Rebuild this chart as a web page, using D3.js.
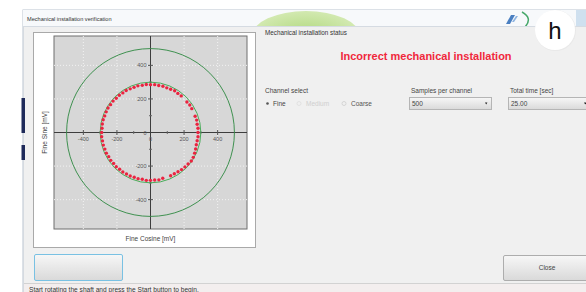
<!DOCTYPE html>
<html>
<head>
<meta charset="UTF-8">
<title>Mechanical installation verification</title>
<style>
  body { margin: 0; background: #fff; font-family: 'Liberation Sans', Arial, sans-serif; }
  svg text { font-family: 'Liberation Sans', Arial, sans-serif; }
</style>
</head>
<body>
<div id="container"></div>
<script src="https://d3js.org/d3.v7.min.js"></script>
<script>
// samples (mV)
var fineCos = [283,283,278,275,266,246,234,217,183,163,144,120,97,74,49,25,0,-25,-49,-75,-98,-121,-145,-165,-186,-204,-223,-238,-253,-264,-273,-282,-287,-289,-291,-291,-286,-281,-272,-263,-249,-237,-220,-204,-184,-165,-143,-121,-97,-74,-49,-25,0,25,50,73,120,142,164,185,205,224,243,255,263,269,273,278,283];
var fineSin = [0,25,49,74,97,142,164,182,218,233,249,258,266,276,280,285,285,286,281,278,269,260,250,236,222,204,187,166,146,123,99,76,51,25,0,-25,-50,-75,-99,-123,-144,-166,-184,-204,-219,-235,-247,-259,-267,-275,-279,-285,-285,-283,-282,-273,-258,-246,-234,-221,-205,-188,-170,-148,-123,-98,-73,-49,-25];
var limitRadii = [300, 500];
var majorTicks = [-400, -200, 200, 400];
var minorTicks = [-300, -100, 100, 300];
var gridValues = [-400, -200, 200, 400];

var svg = d3.select("#container").append("svg")
  .attr("width", 586).attr("height", 292);

var defs = svg.append("defs");
var g1 = defs.append("linearGradient").attr("id", "btn").attr("x1", 0).attr("y1", 0).attr("x2", 0).attr("y2", 1);
g1.append("stop").attr("offset", "0%").attr("stop-color", "#f7f7f7");
g1.append("stop").attr("offset", "100%").attr("stop-color", "#d9d9d9");
var g2 = defs.append("radialGradient").attr("id", "swoosh");
g2.append("stop").attr("offset", "0%").attr("stop-color", "#9ccf5a");
g2.append("stop").attr("offset", "100%").attr("stop-color", "#c9e59e");
defs.append("clipPath").attr("id", "titleclip").append("rect")
  .attr("x", 23).attr("y", 10).attr("width", 563).attr("height", 16);
defs.append("clipPath").attr("id", "plotclip").append("rect")
  .attr("x", 54).attr("y", 36).attr("width", 193).attr("height", 193);

// window body
svg.append("rect").attr("x", 23).attr("y", 10).attr("width", 570).attr("height", 290)
  .attr("fill", "#f0f0f0").attr("stroke", "#b9c4cf");
svg.append("rect").attr("x", 23).attr("y", 10).attr("width", 570).attr("height", 16)
  .attr("fill", "#f7f9fb");
var tb = svg.append("g").attr("clip-path", "url(#titleclip)");
tb.append("ellipse").attr("cx", 306).attr("cy", 36).attr("rx", 54).attr("ry", 25)
  .attr("fill", "url(#swoosh)").attr("opacity", 0.8);
tb.append("path").attr("d", "M506,24 L511,15 L515,15 L510,24 Z").attr("fill", "#4a7fc1");
tb.append("path").attr("d", "M512,22 L516,16 L518,16 L514,22 Z").attr("fill", "#8fb4e0");
tb.append("path").attr("d", "M522,12 Q533,18 525,27").attr("fill", "none").attr("stroke", "#47a86a").attr("stroke-width", 1.5);
tb.append("rect").attr("x", 576).attr("y", 10).attr("width", 12).attr("height", 16).attr("fill", "#cfe0ef");
svg.append("line").attr("x1", 23).attr("x2", 586).attr("y1", 26.5).attr("y2", 26.5).attr("stroke", "#d5dbe2");
svg.append("text").attr("x", 27).attr("y", 21).attr("font-size", 5.6).attr("fill", "#333")
  .text("Mechanical installation verification");
svg.append("rect").attr("x", 21.5).attr("y", 98).attr("width", 3.5).attr("height", 35).attr("fill", "#1f2a5a");
svg.append("rect").attr("x", 21.5).attr("y", 145).attr("width", 3.5).attr("height", 15).attr("fill", "#1f2a5a");

// chart panel
svg.append("rect").attr("x", 33.5).attr("y", 32.5).attr("width", 222).attr("height", 215)
  .attr("fill", "#fff").attr("stroke", "#a9a9a9");

var x = d3.scaleLinear().domain([-575, 575]).range([54, 247]);
var y = d3.scaleLinear().domain([-575, 575]).range([229, 36]);

svg.append("rect").attr("x", x(-575)).attr("y", y(575))
  .attr("width", x(575) - x(-575)).attr("height", y(-575) - y(575))
  .attr("fill", "#d7d7d7").attr("stroke", "#6f6f6f");

var plot = svg.append("g").attr("clip-path", "url(#plotclip)");

plot.selectAll(".hgrid").data(gridValues).enter().append("line")
  .attr("x1", x(-575)).attr("x2", x(575)).attr("y1", function(d) { return y(d); }).attr("y2", function(d) { return y(d); })
  .attr("stroke", "#f2f2f2").attr("stroke-dasharray", "1,2");
plot.selectAll(".vgrid").data(gridValues).enter().append("line")
  .attr("y1", y(-575)).attr("y2", y(575)).attr("x1", function(d) { return x(d); }).attr("x2", function(d) { return x(d); })
  .attr("stroke", "#f2f2f2").attr("stroke-dasharray", "1,2");

// axes through origin
plot.append("line").attr("x1", x(-575)).attr("x2", x(575)).attr("y1", y(0)).attr("y2", y(0)).attr("stroke", "#3d3d3d");
plot.append("line").attr("y1", y(-575)).attr("y2", y(575)).attr("x1", x(0)).attr("x2", x(0)).attr("stroke", "#3d3d3d");

plot.selectAll(".xt").data(majorTicks).enter().append("line")
  .attr("x1", function(d) { return x(d); }).attr("x2", function(d) { return x(d); })
  .attr("y1", y(0) - 2.5).attr("y2", y(0) + 2.5).attr("stroke", "#555");
plot.selectAll(".yt").data(majorTicks).enter().append("line")
  .attr("y1", function(d) { return y(d); }).attr("y2", function(d) { return y(d); })
  .attr("x1", x(0) - 2.5).attr("x2", x(0) + 2.5).attr("stroke", "#555");
plot.selectAll(".xm").data(minorTicks).enter().append("line")
  .attr("x1", function(d) { return x(d); }).attr("x2", function(d) { return x(d); })
  .attr("y1", y(0) - 1.5).attr("y2", y(0) + 1.5).attr("stroke", "#666");
plot.selectAll(".ym").data(minorTicks).enter().append("line")
  .attr("y1", function(d) { return y(d); }).attr("y2", function(d) { return y(d); })
  .attr("x1", x(0) - 1.5).attr("x2", x(0) + 1.5).attr("stroke", "#666");

plot.selectAll(".xl").data(majorTicks.concat([0])).enter().append("text")
  .attr("x", function(d) { return x(d); }).attr("y", y(0) + 8)
  .attr("text-anchor", "middle").attr("font-size", 5.5).attr("fill", "#555")
  .text(function(d) { return d; });
plot.selectAll(".yl").data(majorTicks.concat([0])).enter().append("text")
  .attr("x", x(0) - 4).attr("y", function(d) { return y(d) + 2; })
  .attr("text-anchor", "end").attr("font-size", 5.5).attr("fill", "#555")
  .text(function(d) { return d; });

// limit circles
plot.selectAll(".limit").data(limitRadii).enter().append("ellipse")
  .attr("cx", x(0)).attr("cy", y(0))
  .attr("rx", function(d) { return x(d) - x(0); }).attr("ry", function(d) { return y(0) - y(d); })
  .attr("fill", "none").attr("stroke", function(d, i) { return i ? "#3f9150" : "#49ad5a"; })
  .attr("stroke-width", 1);

// samples
plot.selectAll(".pt").data(fineCos).enter().append("circle")
  .attr("cx", function(d) { return x(d); })
  .attr("cy", function(d, i) { return y(fineSin[i]); })
  .attr("r", 1.7).attr("fill", "#ea2440");

svg.append("text").attr("x", x(0)).attr("y", 241).attr("text-anchor", "middle")
  .attr("font-size", 6.5).attr("fill", "#444").text("Fine Cosine [mV]");
svg.append("text").attr("transform", "translate(47," + y(0) + ") rotate(-90)")
  .attr("text-anchor", "middle").attr("font-size", 6.5).attr("fill", "#444").text("Fine Sine [mV]");

// right side controls
svg.append("text").attr("x", 265).attr("y", 35).attr("font-size", 6.3).attr("fill", "#333")
  .text("Mechanical installation status");
svg.append("text").attr("x", 426).attr("y", 59.5).attr("text-anchor", "middle")
  .attr("font-size", 11).attr("font-weight", "bold").attr("fill", "#f0283c")
  .text("Incorrect mechanical installation");

svg.append("text").attr("x", 265).attr("y", 92.5).attr("font-size", 6.5).attr("fill", "#444").text("Channel select");
svg.append("circle").attr("cx", 267.5).attr("cy", 103.5).attr("r", 1.3).attr("fill", "#555");
svg.append("text").attr("x", 273).attr("y", 106).attr("font-size", 6.5).attr("fill", "#444").text("Fine");
svg.append("circle").attr("cx", 299).attr("cy", 103.5).attr("r", 2).attr("fill", "none").attr("stroke", "#e2e2e2");
svg.append("text").attr("x", 306).attr("y", 106).attr("font-size", 6.5).attr("fill", "#cfcfcf").text("Medium");
svg.append("circle").attr("cx", 344).attr("cy", 103.5).attr("r", 2).attr("fill", "none").attr("stroke", "#d5d5d5");
svg.append("text").attr("x", 351).attr("y", 106).attr("font-size", 6.5).attr("fill", "#555").text("Coarse");

svg.append("text").attr("x", 411).attr("y", 92.5).attr("font-size", 6.5).attr("fill", "#444").text("Samples per channel");
svg.append("text").attr("x", 510).attr("y", 92.5).attr("font-size", 6.5).attr("fill", "#444").text("Total time [sec]");
[[409, "500"], [508, "25.00"]].forEach(function(c) {
  svg.append("rect").attr("x", c[0] + 0.5).attr("y", 97.5).attr("width", 82).attr("height", 12)
    .attr("fill", "url(#btn)").attr("stroke", "#b5b5b5");
  svg.append("text").attr("x", c[0] + 3).attr("y", 106).attr("font-size", 6.5).attr("fill", "#444").text(c[1]);
  svg.append("path").attr("d", "M" + (c[0] + 76) + ",102.5 l2.4,0 l-1.2,2 z").attr("fill", "#222");
});

// buttons
svg.append("rect").attr("x", 34.5).attr("y", 254.5).attr("width", 88).attr("height", 26).attr("rx", 1.5)
  .attr("fill", "url(#btn)").attr("stroke", "#79c1e3");
svg.append("rect").attr("x", 503.5).attr("y", 255.5).attr("width", 90).attr("height", 25).attr("rx", 1.5)
  .attr("fill", "url(#btn)").attr("stroke", "#adadad");
svg.append("text").attr("x", 547).attr("y", 270).attr("text-anchor", "middle").attr("font-size", 6.5).attr("fill", "#444").text("Close");

// status bar
svg.append("rect").attr("x", 24).attr("y", 283).attr("width", 570).attr("height", 9).attr("fill", "#f3eeee");
svg.append("line").attr("x1", 24).attr("x2", 586).attr("y1", 283.5).attr("y2", 283.5).attr("stroke", "#d2d2d2");
svg.append("text").attr("x", 29).attr("y", 292).attr("font-size", 6.6).attr("fill", "#333")
  .text("Start rotating the shaft and press the Start button to begin.");

// panel label
svg.append("circle").attr("cx", 555.5).attr("cy", 30.5).attr("r", 20.5).attr("fill", "#e6e6e6").attr("opacity", 0.7);
svg.append("circle").attr("cx", 555).attr("cy", 30).attr("r", 20).attr("fill", "#fff");
svg.append("text").attr("x", 555).attr("y", 38.5).attr("text-anchor", "middle")
  .attr("font-size", 24).attr("fill", "#111").text("h");
</script>
</body>
</html>
